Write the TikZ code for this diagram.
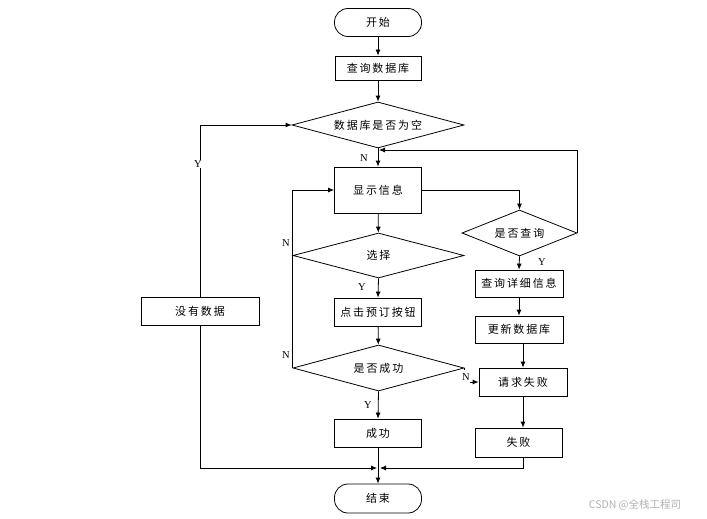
\documentclass[tikz,border=0pt]{standalone}
\usepackage{fontspec}
\setmainfont{Liberation Serif}
\newfontfamily\cjk[LetterSpace=17]{Noto Sans CJK SC}
\newfontfamily\wmfont{Noto Sans CJK SC}
\usetikzlibrary{arrows.meta,shapes.geometric,calc}
\tikzset{
  base/.style={draw=black,line width=0.8pt,inner sep=0pt,font=\cjk\fontsize{11}{12}\selectfont,fill=white},
  procbox/.style={base,rectangle,minimum width=#1,minimum height=27pt},
  term/.style={base,rectangle,rounded corners=13.5pt,minimum width=87pt,minimum height=28pt},
  decide/.style={base,diamond,aspect=3.7,minimum width=#1,minimum height=46pt},
  conn/.style={line width=0.8pt,draw=black,-{Latex[length=6pt,width=5pt]}},
  plain/.style={line width=0.8pt,draw=black},
  yn/.style={font=\fontsize{10.5}{12}\selectfont,fill=white,inner sep=0.5pt}
}
\begin{document}
\begin{tikzpicture}[x=1pt,y=-1pt]
\path[fill=white] (0,0) rectangle (707,519);
\useasboundingbox (0,0) rectangle (707,519);
% nodes
\node[term] (start) at (378,22.5) {开始};
\node[procbox=86pt,minimum height=24pt] (q) at (378,68) {查询数据库};
\node[decide=172pt] (d1) at (378,125) {数据库是否为空};
\node[procbox=87pt,minimum height=46pt] (show) at (378,190) {显示信息};
\node[decide=171pt,minimum height=45pt] (sel) at (378.5,255.5) {选择};
\node[procbox=87pt,minimum height=28pt] (book) at (378,312) {点击预订按钮};
\node[decide=171pt] (succq) at (378.5,368) {是否成功};
\node[procbox=87pt,minimum height=28pt] (succ) at (378,433) {成功};
\node[term,minimum height=29pt] (end) at (378,498.5) {结束};
\node[decide=115pt,aspect=2.5] (qd) at (519.5,233) {是否查询};
\node[procbox=88pt] (detail) at (519,283.5) {查询详细信息};
\node[procbox=88pt] (upd) at (519,329.5) {更新数据库};
\node[procbox=88pt,minimum height=28pt] (reqf) at (523,382) {请求失败};
\node[procbox=87pt,minimum height=29pt] (fail) at (518.5,442.5) {失败};
\node[procbox=118pt,minimum height=28pt] (nodata) at (200,311) {没有数据};
\coordinate (j1) at (378,150);
\coordinate (m) at (378,468);
% connectors
\draw[conn] (start) -- (q);
\draw[conn] (q) -- (d1);
\draw[conn] (d1.south) -- (show.north);
\draw[conn] (qd.east) |- ([xshift=1pt]j1);
\draw[conn] (show) -- (sel);
\draw[conn] (sel.south) -- (book.north);
\draw[conn] (book) -- (succq);
\draw[conn] (succq.south) -- (succ.north);
\draw[conn] (succ.south) -- (end.north);
\draw[conn] (show.east) -| (qd.north);
\draw[conn] (sel.west) |- (show.west);
\draw[plain] (succq.west) -- (sel.west);
\draw[conn] (qd.south) -- (detail.north);
\draw[conn] (detail) -- (upd);
\draw[conn] (reqf.north |- upd.south) -- (reqf.north);
\draw[conn] (succq.east) |- (reqf.west);
\draw[conn] (reqf.south) -- (reqf.south |- fail.north);
\draw[conn] (reqf.south |- fail.south) |- ([xshift=2pt]m);
\draw[conn] (nodata.north) |- (d1.west);
\draw[conn] (nodata.south) |- ([xshift=-1pt]m);
% labels
\node[yn] (lN1) at (364,158) {N};
\node[yn] (lY1) at (198,164) {Y};
\node[yn] (lN2) at (286,243) {N};
\node[yn] (lY2) at (362,287) {Y};
\node[yn] (lN3) at (286,355) {N};
\node[yn] (lY3) at (368,405) {Y};
\node[yn] (lY4) at (542,262) {Y};
\node[yn,minimum height=14pt] (lN4) at (466,377) {N};
\node[font=\wmfont\fontsize{10.5}{12}\selectfont,text=black!30] (wm) at (635,505) {CSDN @全栈工程司};
\end{tikzpicture}
\end{document}
